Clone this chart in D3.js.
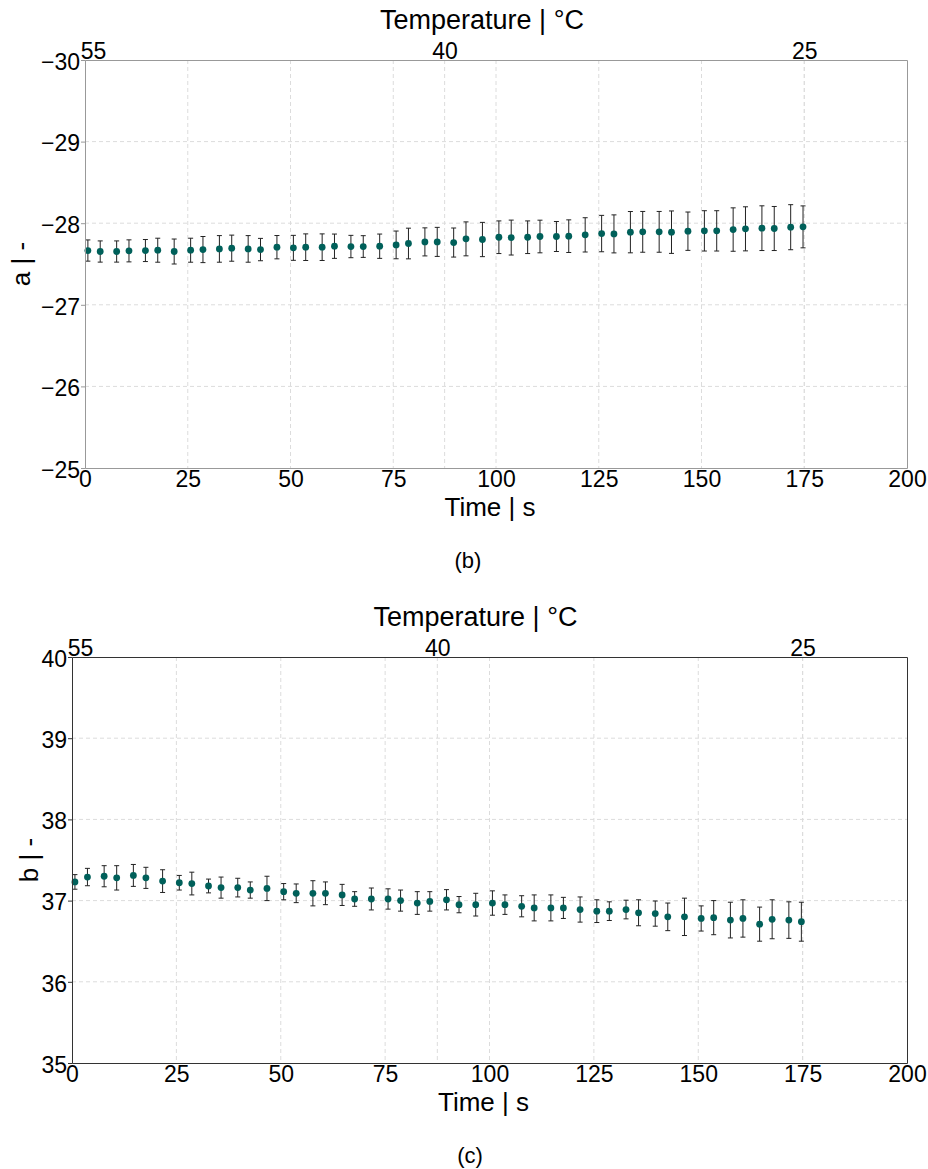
<!DOCTYPE html>
<html>
<head>
<meta charset="utf-8">
<script src="https://cdn.jsdelivr.net/npm/d3@7"></script>
<style>
  body { margin: 0; background: #fff; }
  svg { display: block; font-family: "Liberation Sans", Arial, sans-serif; }
  .tick text { fill: #000; }
</style>
</head>
<body>
<div id="chart"></div>
<script>
// time stamps of the measurements (s)
const timeS = [0.7, 3.7, 7.7, 10.7, 14.7, 17.7, 21.7, 25.7, 28.7, 32.7,
  35.7, 39.7, 42.7, 46.7, 50.7, 53.7, 57.7, 60.7, 64.7, 67.7,
  71.7, 75.7, 78.7, 82.7, 85.7, 89.7, 92.7, 96.7, 100.7, 103.7,
  107.7, 110.7, 114.7, 117.7, 121.7, 125.7, 128.7, 132.7, 135.7, 139.7,
  142.7, 146.7, 150.7, 153.7, 157.7, 160.7, 164.7, 167.7, 171.7, 174.7]

// panel (b): a value and its error
const aMean = [-27.665, -27.653, -27.653, -27.661, -27.665, -27.669, -27.653, -27.669, -27.677, -27.685,
  -27.694, -27.685, -27.677, -27.706, -27.698, -27.706, -27.706, -27.718, -27.714, -27.714,
  -27.718, -27.734, -27.751, -27.771, -27.771, -27.763, -27.808, -27.800, -27.828, -27.824,
  -27.828, -27.837, -27.837, -27.841, -27.857, -27.873, -27.869, -27.890, -27.894, -27.894,
  -27.890, -27.902, -27.906, -27.906, -27.922, -27.931, -27.939, -27.935, -27.951, -27.955]
const aErr = [0.13, 0.13, 0.13, 0.135, 0.135, 0.147, 0.153, 0.147, 0.16, 0.163,
  0.16, 0.163, 0.137, 0.143, 0.153, 0.163, 0.163, 0.149, 0.137, 0.133,
  0.149, 0.17, 0.188, 0.172, 0.178, 0.178, 0.208, 0.21, 0.20, 0.214,
  0.20, 0.20, 0.184, 0.20, 0.21, 0.223, 0.233, 0.253, 0.25, 0.25,
  0.26, 0.235, 0.247, 0.247, 0.266, 0.27, 0.274, 0.27, 0.276, 0.257]

// panel (c): b value and its error
const bMean = [37.23, 37.29, 37.30, 37.28, 37.31, 37.28, 37.24, 37.22, 37.21, 37.18,
  37.16, 37.16, 37.13, 37.15, 37.11, 37.09, 37.09, 37.09, 37.07, 37.02,
  37.02, 37.02, 37.00, 36.97, 36.99, 37.01, 36.95, 36.95, 36.97, 36.95,
  36.93, 36.91, 36.91, 36.91, 36.89, 36.87, 36.87, 36.89, 36.85, 36.84,
  36.80, 36.80, 36.78, 36.79, 36.76, 36.78, 36.71, 36.77, 36.76, 36.74]
const bErr = [0.09, 0.107, 0.13, 0.15, 0.135, 0.13, 0.14, 0.09, 0.14, 0.085,
  0.13, 0.115, 0.10, 0.15, 0.10, 0.115, 0.155, 0.14, 0.13, 0.09,
  0.135, 0.125, 0.13, 0.14, 0.12, 0.125, 0.10, 0.14, 0.15, 0.12,
  0.13, 0.16, 0.16, 0.13, 0.155, 0.14, 0.115, 0.115, 0.16, 0.155,
  0.17, 0.23, 0.155, 0.21, 0.22, 0.23, 0.21, 0.24, 0.225, 0.24]

// tick labels
const timeTicks = [0, 25, 50, 75, 100, 125, 150, 175, 200]
const tempTicks = [55, 40, 25]
const aTicks = [-30, -29, -28, -27, -26, -25]
const bTicks = [35, 36, 37, 38, 39, 40]

// temperature falls linearly: 55 °C at t = 0 s, 25 °C at t = 175 s
const tempAt = t => 55 - t * 30 / 175

const width = 928, height = 1169
const svg = d3.select("#chart").append("svg")
    .attr("width", width)
    .attr("height", height)

const markerColor = "#00605a"
const gridColor = "#dcdcdc"

function drawPanel(p) {
    let x = d3.scaleLinear().domain([0, 200]).range([p.left, p.right])
    let xt = d3.scaleLinear().domain([tempAt(0), tempAt(200)]).range([p.left, p.right])
    let y = d3.scaleLinear().domain(p.yDomain).range([p.bottom, p.top])

    let g = svg.append("g")

    // dashed grid
    let grid = g.append("g")
        .attr("stroke", gridColor)
        .attr("stroke-width", 1)
        .attr("stroke-dasharray", "4,3")
    grid.selectAll("line.h")
        .data(p.yTicks.slice(1, -1))
        .join("line")
        .attr("class", "h")
        .attr("x1", p.left).attr("x2", p.right)
        .attr("y1", d => y(d)).attr("y2", d => y(d))
    grid.selectAll("line.v")
        .data(timeTicks.slice(1, -1))
        .join("line")
        .attr("class", "v")
        .attr("x1", d => x(d)).attr("x2", d => x(d))
        .attr("y1", p.top).attr("y2", p.bottom)
    grid.selectAll("line.vt")
        .data(tempTicks.slice(1))
        .join("line")
        .attr("class", "vt")
        .attr("x1", d => xt(d)).attr("x2", d => xt(d))
        .attr("y1", p.top).attr("y2", p.bottom)

    // error bars
    let pts = timeS.map((t, i) => ({t: t, v: p.mean[i], e: p.err[i]}))
    let eb = g.append("g")
        .attr("stroke", "#222")
        .attr("stroke-width", 1)
        .attr("fill", "none")
    let cap = 2.5
    eb.selectAll("path")
        .data(pts)
        .join("path")
        .attr("d", d => {
            let cx = x(d.t), y0 = y(d.v - d.e), y1 = y(d.v + d.e)
            return "M" + cx + "," + y0 + "V" + y1 +
                "M" + (cx - cap) + "," + y0 + "H" + (cx + cap) +
                "M" + (cx - cap) + "," + y1 + "H" + (cx + cap)
        })

    g.append("g")
        .selectAll("circle")
        .data(pts)
        .join("circle")
        .attr("cx", d => x(d.t))
        .attr("cy", d => y(d.v))
        .attr("r", 3.4)
        .attr("fill", markerColor)

    // axes
    let fmt = d3.format("d")
    let bottomAxis = g.append("g")
        .attr("transform", "translate(0," + p.bottom + ")")
        .call(d3.axisBottom(x).tickValues(timeTicks).tickSize(0).tickPadding(3).tickFormat(fmt))
    let topAxis = g.append("g")
        .attr("transform", "translate(0," + p.top + ")")
        .call(d3.axisTop(xt).tickValues(tempTicks).tickSize(0).tickPadding(1).tickFormat(fmt))
    let leftAxis = g.append("g")
        .attr("transform", "translate(" + p.left + ",0)")
        .call(d3.axisLeft(y).tickValues(p.yTicks).tickSize(4).tickPadding(1).tickFormat(fmt))
    let rightAxis = g.append("g")
        .attr("transform", "translate(" + p.right + ",0)")
        .call(d3.axisRight(y).tickValues([]).tickSize(0))

    ;[bottomAxis, topAxis, leftAxis, rightAxis].forEach(a => {
        a.select(".domain").attr("stroke", p.spine).attr("stroke-width", 1)
        a.selectAll(".tick line").attr("stroke", p.spine)
        a.selectAll(".tick text").style("font-size", "23px")
    })
    // the 55 label sits just right of the corner, as in the source figure
    topAxis.selectAll(".tick text").filter(d => d === 55).attr("dx", 8)
    leftAxis.selectAll(".tick text").attr("dy", "0.4em")

    // axis titles
    let cx = (p.left + p.right) / 2
    g.append("text")
        .attr("x", cx - 14).attr("y", p.top - 31)
        .attr("text-anchor", "middle")
        .style("font-size", "27px")
        .text("Temperature | °C")
    g.append("text")
        .attr("x", cx - 6).attr("y", p.bottom + 48)
        .attr("text-anchor", "middle")
        .style("font-size", "26px")
        .text("Time | s")
    g.append("text")
        .attr("transform", "translate(" + p.yLabelX + "," + ((p.top + p.bottom) / 2) + ") rotate(-90)")
        .attr("text-anchor", "middle")
        .style("font-size", "26px")
        .text(p.yLabel)
    g.append("text")
        .attr("x", p.captionX).attr("y", p.captionY)
        .attr("text-anchor", "middle")
        .style("font-size", "22px")
        .text(p.caption)
}

drawPanel({
    left: 85, right: 907, top: 60, bottom: 468,
    yDomain: [-25, -30], yTicks: aTicks,
    mean: aMean, err: aErr,
    spine: "#999",
    yLabel: "a | -", yLabelX: 30,
    caption: "(b)", captionX: 468, captionY: 568
})

drawPanel({
    left: 72, right: 907, top: 657, bottom: 1063,
    yDomain: [35, 40], yTicks: bTicks,
    mean: bMean, err: bErr,
    spine: "#333",
    yLabel: "b | -", yLabelX: 38,
    caption: "(c)", captionX: 470, captionY: 1163
})
</script>
</body>
</html>
